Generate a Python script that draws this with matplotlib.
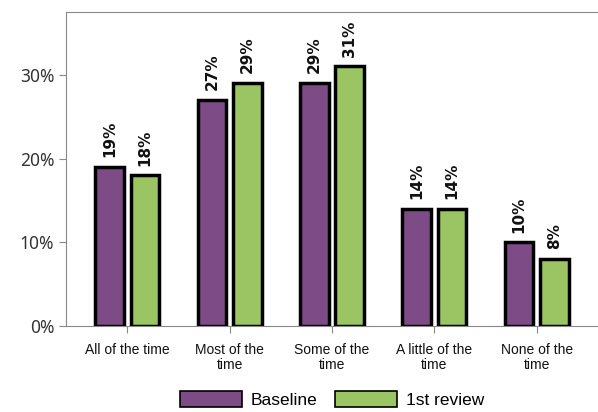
import numpy as np
import matplotlib.pyplot as plt
from matplotlib.patches import Patch

categories = ['All of the time', 'Most of the\ntime', 'Some of the\ntime',
              'A little of the\ntime', 'None of the\ntime']
baseline = [19, 27, 29, 14, 10]
review = [18, 29, 31, 14, 8]
series_names = ['Baseline', '1st review']

purple = '#7d4c86'
green = '#9bc462'

fig = plt.figure(figsize=(5.98, 4.12), dpi=100)
ax = fig.add_axes([0.1104, 0.2087, 0.8896, 0.7622])

x = np.arange(len(categories))
w = 0.28
off = 0.173
b1 = ax.bar(x - off, baseline, w, color=purple, edgecolor='black', linewidth=2.5)
b2 = ax.bar(x + off, review, w, color=green, edgecolor='black', linewidth=2.5)

for bars, vals in [(b1, baseline), (b2, review)]:
    for r, v in zip(bars, vals):
        ax.annotate(f'{v}%', (r.get_x() + r.get_width() / 2, v),
                    xytext=(0, 7), textcoords='offset points',
                    rotation=90, ha='center', va='bottom',
                    fontsize=11, fontweight='bold', family='DejaVu Sans',
                    color='#111111')

ax.set_xlim(-0.6, 4.6)
ax.set_ylim(0, 37.5)
ax.set_yticks([0, 10, 20, 30])
ax.set_yticklabels(['0%', '10%', '20%', '30%'], fontsize=12.5, family='Noto Sans',
                   color='#333333')
ax.set_xticks(x)
ax.set_xticklabels(categories, fontsize=10, family='Liberation Sans', color='#111111',
                   linespacing=1.15)

for s in ['left', 'bottom', 'top']:
    ax.spines[s].set_color('#888888')
ax.spines['right'].set_visible(False)
ax.tick_params(axis='both', color='#888888', length=5)
ax.tick_params(axis='x', pad=7)

handles = [Patch(facecolor=purple, edgecolor='black', linewidth=1.2),
           Patch(facecolor=green, edgecolor='black', linewidth=1.2)]
fig.legend(handles, series_names, loc='lower center', bbox_to_anchor=(0.555, -0.028),
           ncol=2, frameon=False, handlelength=3.6, handleheight=1.1,
           prop={'family': 'Liberation Sans', 'size': 12.5}, columnspacing=1.0,
           handletextpad=0.5)

fig.savefig('out.png', dpi=100)
